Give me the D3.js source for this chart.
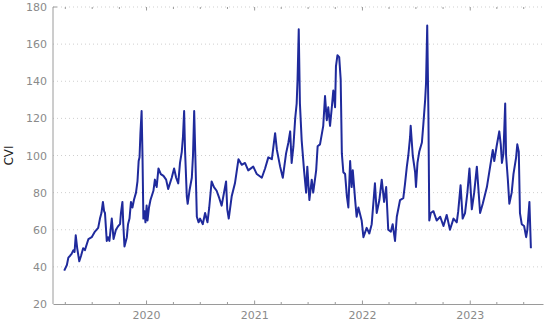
<!DOCTYPE html>
<html lang="en">
<head>
<meta charset="utf-8">
<title>CVI</title>
<script src="https://cdnjs.cloudflare.com/ajax/libs/d3/7.8.5/d3.min.js"></script>
<style>
  body { margin: 0; background: #fff; }
  .line { fill: none; stroke: #1f2a9c; stroke-width: 2px; stroke-linejoin: round; }
  .grid line { stroke: #cfcfcf; stroke-dasharray: 1,3; }
  .axis text { fill: #8a8a8a; font-family: "DejaVu Sans", sans-serif; font-size: 11px; }
  .axis path, .axis line { stroke: #9a9a9a; }
</style>
</head>
<body>
<div id="chart"></div>
<script>
// dates, with the CVI value at each
var dates = [
  "2019-03-30","2019-04-08","2019-04-13","2019-04-19","2019-04-24","2019-04-30","2019-05-04","2019-05-08",
  "2019-05-13","2019-05-20","2019-05-26","2019-06-02","2019-06-08","2019-06-20","2019-07-01","2019-07-12",
  "2019-07-23","2019-07-29","2019-08-03","2019-08-08","2019-08-12","2019-08-15","2019-08-21","2019-08-25",
  "2019-08-30","2019-09-07","2019-09-13","2019-09-21","2019-09-29","2019-10-05","2019-10-08","2019-10-13",
  "2019-10-16","2019-10-20","2019-10-28","2019-11-01","2019-11-06","2019-11-11","2019-11-16","2019-11-21",
  "2019-11-28","2019-12-03","2019-12-07","2019-12-10","2019-12-13","2019-12-17","2019-12-20","2019-12-23",
  "2019-12-27","2019-12-30","2020-01-03","2020-01-06","2020-01-11","2020-01-16","2020-01-26","2020-01-31",
  "2020-02-06","2020-02-12","2020-02-20","2020-02-29","2020-03-09","2020-03-16","2020-03-28","2020-04-05",
  "2020-04-12","2020-04-19","2020-04-25","2020-05-01","2020-05-05","2020-05-09","2020-05-12","2020-05-18",
  "2020-05-21","2020-05-27","2020-06-04","2020-06-08","2020-06-12","2020-06-16","2020-06-21","2020-06-27",
  "2020-07-02","2020-07-11","2020-07-19","2020-07-27","2020-08-02","2020-08-10","2020-08-18","2020-08-27",
  "2020-09-05","2020-09-13","2020-09-21","2020-09-28","2020-10-02","2020-10-07","2020-10-17","2020-10-28",
  "2020-11-09","2020-11-20","2020-12-01","2020-12-12","2020-12-29","2021-01-10","2021-01-27","2021-02-07",
  "2021-02-18","2021-03-02","2021-03-13","2021-03-19","2021-03-30","2021-04-08","2021-04-19","2021-04-27",
  "2021-05-03","2021-05-08","2021-05-14","2021-05-20","2021-05-25","2021-05-28","2021-06-01","2021-06-05",
  "2021-06-11","2021-06-19","2021-06-26","2021-06-30","2021-07-07","2021-07-15","2021-07-20","2021-07-30",
  "2021-08-04","2021-08-12","2021-08-23","2021-08-29","2021-09-04","2021-09-09","2021-09-15","2021-09-21",
  "2021-09-26","2021-10-02","2021-10-05","2021-10-10","2021-10-16","2021-10-21","2021-10-25","2021-10-30",
  "2021-11-05","2021-11-11","2021-11-16","2021-11-22","2021-11-27","2021-12-01","2021-12-09","2021-12-14",
  "2021-12-20","2021-12-31","2022-01-06","2022-01-17","2022-01-26","2022-02-03","2022-02-14","2022-02-20",
  "2022-03-01","2022-03-09","2022-03-17","2022-03-24","2022-03-31","2022-04-09","2022-04-15","2022-04-23",
  "2022-04-29","2022-05-10","2022-05-21","2022-05-27","2022-06-02","2022-06-07","2022-06-13","2022-06-15",
  "2022-06-22","2022-06-30","2022-07-03","2022-07-08","2022-07-14","2022-07-23","2022-07-28","2022-08-03",
  "2022-08-06","2022-08-10","2022-08-14","2022-08-17","2022-08-22","2022-08-31","2022-09-11","2022-09-23",
  "2022-10-04","2022-10-15","2022-10-26","2022-11-07","2022-11-18","2022-11-23","2022-12-01","2022-12-08",
  "2022-12-16","2022-12-24","2022-12-31","2023-01-08","2023-01-16","2023-01-25","2023-02-05","2023-02-14",
  "2023-02-28","2023-03-11","2023-03-20","2023-03-25","2023-04-02","2023-04-11","2023-04-16","2023-04-20",
  "2023-04-25","2023-05-01","2023-05-04","2023-05-10","2023-05-15","2023-05-23","2023-05-29","2023-06-07",
  "2023-06-11","2023-06-16","2023-06-20","2023-06-26","2023-07-04","2023-07-11","2023-07-15","2023-07-22",
  "2023-07-27"
];
var cvi = [
  38, 41, 45, 46, 47, 49, 48, 57,
  50, 43, 46, 50, 49, 55, 56, 59,
  61, 66, 69, 75, 70, 69, 54, 56,
  54, 66, 55, 60, 62, 63, 69, 75,
  63, 51, 56, 63, 66, 75, 72, 76,
  80, 86, 97, 99, 112, 124, 100, 66,
  70, 64, 73, 65, 72, 76, 81, 87,
  83, 93, 90, 89, 87, 82, 88, 93,
  88, 85, 96, 102, 110, 124, 103, 78,
  74, 81, 88, 100, 124, 99, 67, 64,
  66, 63, 69, 64, 72, 86, 83, 81,
  77, 73, 80, 86, 71, 66, 78, 85,
  98, 95, 96, 92, 94, 90, 88, 93,
  99, 98, 112, 103, 94, 88, 101, 107,
  113, 96, 105, 120, 128, 141, 168, 128,
  108, 92, 80, 94, 76, 87, 80, 92,
  105, 106, 116, 132, 119, 126, 116, 126,
  135, 126, 148, 154, 153, 141, 101, 91,
  90, 78, 72, 97, 83, 92, 76, 67,
  72, 65, 56, 61, 58, 63, 85, 69,
  76, 87, 75, 83, 60, 59, 63, 54,
  67, 76, 77, 85, 94, 100, 110, 116,
  100, 91, 83, 96, 102, 107, 117, 130,
  139, 170, 123, 65, 69, 70, 65, 67,
  62, 68, 60, 66, 64, 70, 84, 66,
  69, 80, 93, 71, 80, 94, 69, 74,
  83, 94, 103, 97, 105, 113, 106, 96,
  101, 128, 100, 87, 74, 80, 90, 99,
  106, 102, 69, 63, 62, 56, 60, 75,
  50
];
var yTicks = [20, 40, 60, 80, 100, 120, 140, 160, 180];
var yLabel = "CVI";

var parse = d3.timeParse("%Y-%m-%d");
var data = dates.map(function (d, i) { return { date: parse(d), value: cvi[i] }; });

var width = 550, height = 325;
var margin = { top: 7, right: 7, bottom: 21, left: 53 };
var w = width - margin.left - margin.right;
var h = height - margin.top - margin.bottom;

var svg = d3.select("#chart").append("svg")
  .attr("width", width)
  .attr("height", height);

var g = svg.append("g")
  .attr("transform", "translate(" + margin.left + "," + margin.top + ")");

var x = d3.scaleTime()
  .domain([parse("2019-02-20"), parse("2023-09-06")])
  .range([0, w]);

var y = d3.scaleLinear().domain([20, 180]).range([h, 0]);

// dotted grid
g.append("g")
  .attr("class", "grid")
  .selectAll("line")
  .data(yTicks.slice(1))
  .join("line")
  .attr("x1", 0).attr("x2", w)
  .attr("y1", function (d) { return y(d); })
  .attr("y2", function (d) { return y(d); });

var years = d3.timeYear.range(x.domain()[0], x.domain()[1]);
var quarters = d3.timeMonth.every(3).range(x.domain()[0], x.domain()[1]);

// bottom axis: quarter ticks inside, year labels
var xAxis = g.append("g")
  .attr("class", "axis")
  .attr("transform", "translate(0," + h + ")")
  .call(d3.axisBottom(x).tickValues(quarters).tickSizeInner(-2).tickSizeOuter(0).tickFormat(""));
xAxis.selectAll(".tick line")
  .attr("y2", function (d) { return d.getMonth() === 0 ? -3.5 : -2; });

g.append("g")
  .attr("class", "axis")
  .attr("transform", "translate(0," + h + ")")
  .call(d3.axisBottom(x).tickValues(years).tickSize(0).tickPadding(7).tickFormat(d3.timeFormat("%Y")))
  .call(function (s) { s.select(".domain").remove(); });

// top ticks, no line
var topAxis = g.append("g")
  .attr("class", "axis")
  .call(d3.axisTop(x).tickValues(quarters).tickSizeInner(-2).tickSizeOuter(0).tickFormat(""));
topAxis.select(".domain").remove();
topAxis.selectAll(".tick line")
  .attr("y2", function (d) { return d.getMonth() === 0 ? 3.5 : 2; });

// left axis
var yAxis = g.append("g")
  .attr("class", "axis")
  .call(d3.axisLeft(y).tickValues(yTicks).tickSize(0).tickPadding(6));
yAxis.select(".domain").attr("d", "M0," + h + "V0H4");

svg.append("text")
  .attr("transform", "translate(13," + (margin.top + y(100)) + ") rotate(-90)")
  .attr("text-anchor", "middle")
  .style("font-family", "DejaVu Sans, sans-serif")
  .style("font-size", "12px")
  .style("fill", "#222")
  .text(yLabel);

var line = d3.line()
  .x(function (d) { return x(d.date); })
  .y(function (d) { return y(d.value); });

g.append("path")
  .datum(data)
  .attr("class", "line")
  .attr("d", line);
</script>
</body>
</html>
